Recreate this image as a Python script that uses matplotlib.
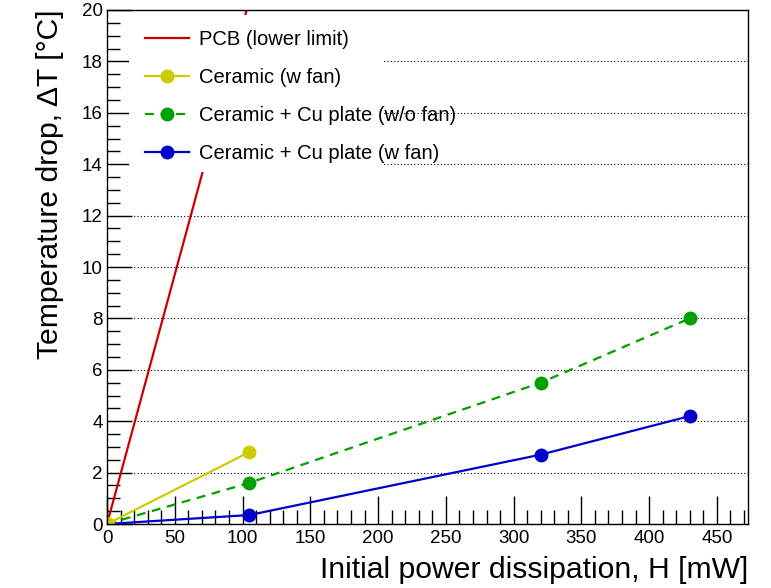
import matplotlib.pyplot as plt
from matplotlib.patches import Rectangle
from matplotlib.ticker import MultipleLocator

plt.rcParams['font.family'] = ['Liberation Sans', 'DejaVu Sans']

# data
pcb_x = [0, 103]
pcb_y = [0, 20]

ceramic_x = [0, 105]
ceramic_y = [0, 2.8]

cu_nofan_x = [0, 105, 320, 430]
cu_nofan_y = [0, 1.6, 5.5, 8.0]

cu_fan_x = [0, 105, 320, 430]
cu_fan_y = [0, 0.35, 2.7, 4.2]

labels = ["PCB (lower limit)", "Ceramic (w fan)",
          "Ceramic + Cu plate (w/o fan)", "Ceramic + Cu plate (w fan)"]

fig = plt.figure(figsize=(7.71, 5.88), dpi=100)
ax = fig.add_axes([0.1388, 0.1088, 0.8315, 0.8742])

ax.plot(pcb_x, pcb_y, color='#cc0000', lw=1.6, label=labels[0], zorder=2)
ax.plot(ceramic_x, ceramic_y, color='#cccc00', lw=1.6, marker='o', ms=9,
        label=labels[1], zorder=2.2)
ax.plot(cu_nofan_x, cu_nofan_y, color='#00a000', lw=1.6, ls=(0, (4, 3)),
        marker='o', ms=9, label=labels[2], zorder=2.1)
ax.plot(cu_fan_x, cu_fan_y, color='#0000cc', lw=1.6, marker='o', ms=9,
        label=labels[3], zorder=2.1)
# yellow origin point on top
ax.plot(ceramic_x[:1], ceramic_y[:1], 'o', color='#cccc00', ms=10, zorder=2.3)

ax.set_xlim(0, 473)
ax.set_ylim(0, 20)

ax.xaxis.set_major_locator(MultipleLocator(50))
ax.xaxis.set_minor_locator(MultipleLocator(10))
ax.yaxis.set_major_locator(MultipleLocator(2))
ax.yaxis.set_minor_locator(MultipleLocator(0.5))

ax.tick_params(axis='both', which='both', direction='in', top=False, right=False,
               labelsize=13.5, width=1)
ax.tick_params(axis='x', which='major', length=20, pad=4)
ax.tick_params(axis='x', which='minor', length=10)
ax.tick_params(axis='y', which='major', length=18, pad=3)
ax.tick_params(axis='y', which='minor', length=9)

ax.yaxis.grid(True, which='major', ls=(0, (1, 2)), color='black', lw=0.8)

for s in ax.spines.values():
    s.set_linewidth(1.0)

# white legend box (does not cover the whole text, as in the reference)
ax.add_patch(Rectangle((0.035, 0.685), 0.395, 0.305, transform=ax.transAxes,
                       facecolor='white', edgecolor='none', zorder=3))
leg = ax.legend(loc='upper left', bbox_to_anchor=(0.047, 0.977), frameon=False,
                fontsize=14.5, handlelength=2.15, labelspacing=0.95,
                handletextpad=0.5, borderaxespad=0)
leg.set_zorder(5)

ax.set_xlabel('Initial power dissipation, H [mW]', fontsize=21.7, loc='right',
              labelpad=7)
ax.set_ylabel('Temperature drop, ΔT [°C]', fontsize=21.7, loc='top', labelpad=13)

fig.savefig('out.png', dpi=100)
